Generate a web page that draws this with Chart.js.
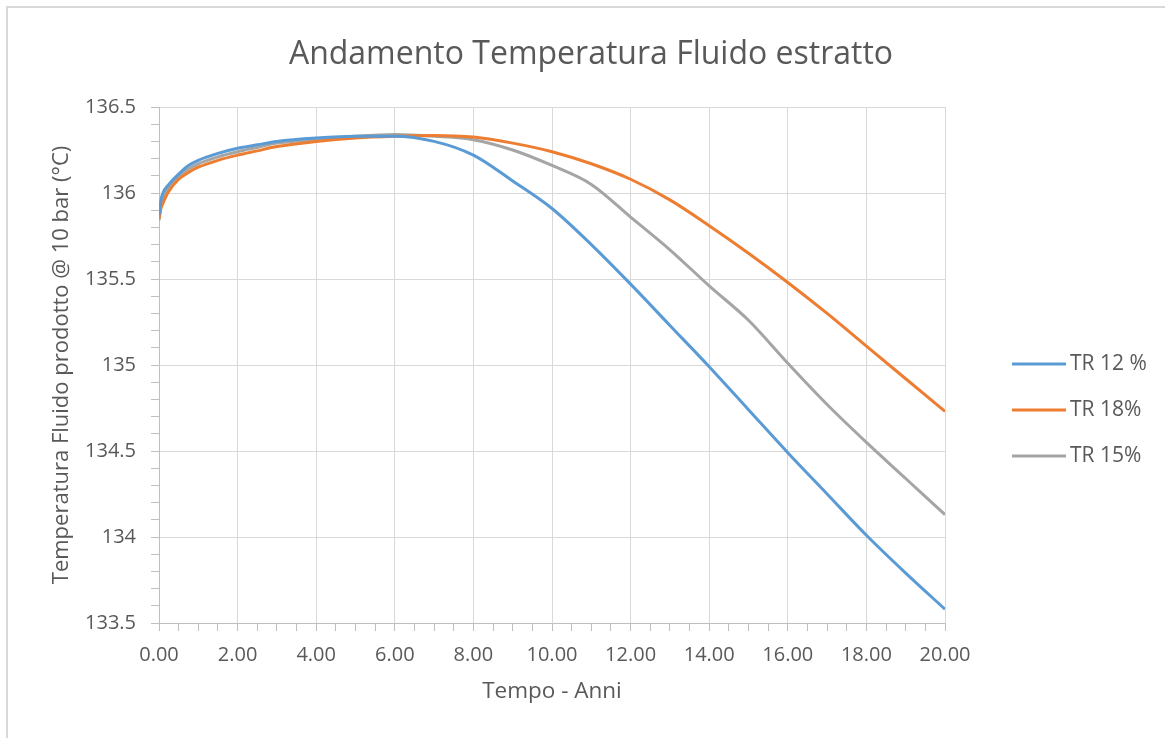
<!DOCTYPE html>
<html>
<head>
<meta charset="utf-8">
<title>Andamento Temperatura Fluido estratto</title>
<script src="https://cdn.jsdelivr.net/npm/chart.js@4.4.1/dist/chart.umd.min.js"></script>
<style>
  body { margin: 0; background: #fff; overflow: hidden; }
  #frame { position: absolute; left: 6px; top: 6px; width: 1300px; height: 900px; border: 2px solid #d9d9d9; }
  #chart { position: absolute; left: 0; top: 0; }
</style>
</head>
<body>
<div id="frame"></div>
<canvas id="chart" width="1165" height="738"></canvas>
<script>
// tempo in anni
const years = [0, 0.05, 0.1, 0.25, 0.5, 0.75, 1, 1.5, 2, 2.5, 3,
  4, 5, 6, 7, 8, 9, 10, 11, 12, 13, 14, 15, 16, 17, 18, 19, 20];

// temperatura fluido (°C) per ogni caso
const tr12 = [135.87, 135.96, 136.00, 136.05, 136.11, 136.16, 136.19, 136.23, 136.26, 136.28, 136.30,
  136.32, 136.33, 136.33, 136.30, 136.22, 136.07, 135.91, 135.70, 135.47, 135.23, 134.99, 134.74, 134.49, 134.25, 134.01, 133.79, 133.58];
const tr18 = [135.85, 135.91, 135.94, 136.01, 136.08, 136.12, 136.15, 136.19, 136.22, 136.245, 136.27,
  136.30, 136.32, 136.33, 136.335, 136.325, 136.29, 136.24, 136.17, 136.08, 135.96, 135.81, 135.65, 135.48, 135.30, 135.11, 134.92, 134.73];
const tr15 = [135.84, 135.93, 135.97, 136.03, 136.10, 136.14, 136.17, 136.21, 136.24, 136.265, 136.29,
  136.31, 136.33, 136.34, 136.33, 136.31, 136.25, 136.16, 136.05, 135.86, 135.67, 135.46, 135.26, 135.01, 134.77, 134.55, 134.34, 134.13];

const seriesNames = ["TR 12 %", "TR 18%", "TR 15%"];
const seriesColors = ["#5b9bd5", "#ed7d31", "#a5a5a5"];

function toPoints(vals) {
  return years.map((t, i) => ({ x: t, y: vals[i] }));
}

function isMajor(v, step) {
  let q = v / step;
  return Math.abs(q - Math.round(q)) < 1e-6;
}

Chart.defaults.font.family = "'Open Sans', sans-serif";
Chart.defaults.font.size = 20;
Chart.defaults.color = "#595959";

// legenda a destra, disegnata a mano (stile Excel)
const sideLegend = {
  id: "sideLegend",
  afterDraw(chart) {
    const ctx = chart.ctx, area = chart.chartArea;
    ctx.save();
    ctx.font = "21px 'Open Sans', sans-serif";
    ctx.textBaseline = "middle";
    ctx.textAlign = "left";
    chart.data.datasets.forEach((ds, i) => {
      let y = area.top + 257 + i * 46;
      ctx.strokeStyle = ds.borderColor;
      ctx.lineWidth = 3;
      ctx.beginPath();
      ctx.moveTo(area.right + 67, y);
      ctx.lineTo(area.right + 121, y);
      ctx.stroke();
      ctx.fillStyle = "#595959";
      ctx.fillText(ds.label, area.right + 125, y);
    });
    ctx.restore();
  }
};

const datasets = [tr12, tr18, tr15].map((vals, i) => ({
  label: seriesNames[i],
  data: toPoints(vals),
  borderColor: seriesColors[i],
  backgroundColor: seriesColors[i],
  borderWidth: 3,
  pointRadius: 0,
  cubicInterpolationMode: "monotone",
  xAxisID: "x",
  yAxisID: "y"
}));

new Chart(document.getElementById("chart").getContext("2d"), {
  type: "line",
  data: { datasets: datasets },
  options: {
    responsive: false,
    animation: false,
    layout: { padding: { left: 17, right: 0, top: 0, bottom: 0 } },
    plugins: {
      legend: { display: false },
      tooltip: { enabled: false },
      title: {
        display: true,
        text: "Andamento Temperatura Fluido estratto",
        font: { size: 32, weight: "normal", lineHeight: 1.2 },
        color: "#595959",
        padding: { top: 36, bottom: 32.6 }
      }
    },
    scales: {
      x: {
        type: "linear",
        position: "bottom",
        min: 0,
        max: 20,
        ticks: {
          stepSize: 0.5,
          autoSkip: false,
          maxRotation: 0,
          padding: 12,
          callback: (v) => isMajor(v, 2) ? v.toFixed(2) : ""
        },
        grid: {
          color: (c) => isMajor(c.tick.value, 2) ? "#d9d9d9" : "rgba(0,0,0,0)",
          tickColor: "#bfbfbf",
          tickLength: 8
        },
        border: { color: "#bfbfbf" },
        title: {
          display: true,
          text: "Tempo - Anni",
          font: { size: 22.5 },
          padding: { top: 0, bottom: 33 }
        },
        afterFit: (s) => { s.height = 115; }
      },
      y: {
        type: "linear",
        position: "left",
        min: 133.5,
        max: 136.5,
        ticks: {
          stepSize: 0.1,
          autoSkip: false,
          padding: 15,
          callback: (v) => {
            let r = Math.round(v * 10) / 10;
            return isMajor(r, 0.5) ? String(r) : "";
          }
        },
        grid: {
          color: (c) => isMajor(Math.round(c.tick.value * 10) / 10, 0.5) ? "#d9d9d9" : "rgba(0,0,0,0)",
          tickColor: "#bfbfbf",
          tickLength: 8
        },
        border: { color: "#bfbfbf" },
        title: {
          display: true,
          text: "Temperatura Fluido prodotto @ 10 bar (°C)",
          font: { size: 22 },
          padding: { top: 32, bottom: 0 }
        },
        afterFit: (s) => { s.width = 142; }
      },
      spacer: {
        type: "linear",
        position: "right",
        display: true,
        grid: { display: false, drawTicks: false },
        border: { display: false },
        ticks: { display: false },
        afterFit: (s) => { s.width = 220; }
      }
    }
  },
  plugins: [sideLegend]
});
</script>
</body>
</html>
